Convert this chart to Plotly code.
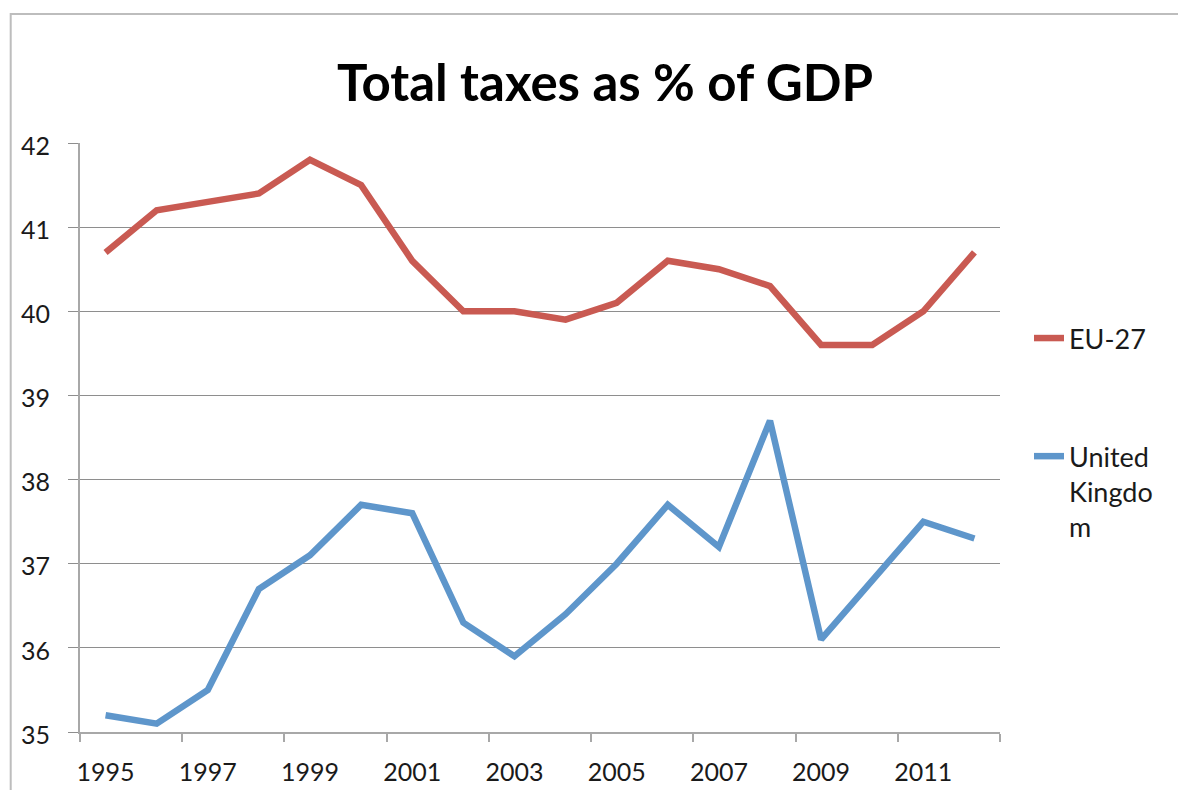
import plotly.graph_objects as go

years = list(range(1995, 2013))
eu27 = [40.7, 41.2, 41.3, 41.4, 41.8, 41.5, 40.6, 40.0, 40.0, 39.9, 40.1, 40.6, 40.5, 40.3, 39.6, 39.6, 40.0, 40.7]
uk = [35.2, 35.1, 35.5, 36.7, 37.1, 37.7, 37.6, 36.3, 35.9, 36.4, 37.0, 37.7, 37.2, 38.7, 36.1, 36.8, 37.5, 37.3]
series_names = ["EU-27", "United<br>Kingdo<br>m"]
x_tick_labels = [str(y) for y in range(1995, 2012, 2)]
y_ticks = [35, 36, 37, 38, 39, 40, 41, 42]

FONT = "Lato"
OFF = 8  # page body margin
W, H = 1186 - OFF, 790 - OFF
# plot area in page (screen) pixels
PX0, PX1, PY0, PY1 = 80, 1000, 143, 732
L, R, T, B = PX0 - OFF, (W + OFF) - PX1, PY0 - OFF, (H + OFF) - PY1
PW, PH = PX1 - PX0, PY1 - PY0

fig = go.Figure()
fig.add_trace(go.Scatter(x=years, y=eu27, mode="lines", name=series_names[0],
                         legendgroup="a",
                         line=dict(color="#C95A52", width=6.5)))
fig.add_trace(go.Scatter(x=years, y=uk, mode="lines", name=series_names[1],
                         legendgroup="b",
                         line=dict(color="#5E96CB", width=6.5)))

grid = "#8E8E8E"
axis_c = "#A8A8A8"
fig.update_layout(
    width=W, height=H, autosize=False,
    margin=dict(l=L, r=R, t=T, b=B, pad=0, autoexpand=False),
    paper_bgcolor="white", plot_bgcolor="white",
    font=dict(family=FONT, color="#1a1a1a", size=25),
    title=dict(text="<b>Total taxes as % of GDP</b>",
               font=dict(family=FONT, size=51, color="#000000"),
               x=(605 - OFF) / W, xanchor="center", xref="container",
               y=1 - (83 - OFF) / H, yanchor="middle", yref="container"),
    xaxis=dict(range=[1994.5, 2012.5], tickmode="array",
               tickvals=list(range(1995, 2012, 2)), ticktext=x_tick_labels,
               ticks="", showgrid=False, zeroline=False, automargin=False,
               showline=True, linecolor=axis_c, linewidth=2,
               ticklabelstandoff=17,
               minor=dict(tickmode="array",
                          tickvals=[1994.5 + 2 * k for k in range(10)],
                          ticks="outside", ticklen=8, tickcolor=axis_c,
                          tickwidth=1.5, showgrid=False),
               tickfont=dict(size=25)),
    yaxis=dict(range=[35, 42], tickmode="array", tickvals=y_ticks,
               ticks="outside", ticklen=10, tickcolor=grid, tickwidth=1.3,
               showgrid=True, gridcolor=grid, gridwidth=1.3, automargin=False,
               zeroline=False, showline=True, linecolor=axis_c, linewidth=2,
               ticklabelstandoff=13, ticklabelshift=3, tickfont=dict(size=25)),
    showlegend=True,
    legend=dict(x=(1029 - OFF) / W, xref="container", xanchor="left",
                y=1 - (314 - OFF) / H, yref="container", yanchor="top",
                valign="top", tracegroupgap=80,
                font=dict(family=FONT, size=27, color="#1a1a1a"),
                bgcolor="rgba(0,0,0,0)"),
    shapes=[dict(type="rect", xref="paper", yref="paper",
                 x0=(10.7 - PX0) / PW, x1=1.4,
                 y0=-0.3, y1=(PY1 - 14) / PH,
                 line=dict(color="#BDBDBD", width=2), layer="below")],
)

fig.write_html("out.html")
